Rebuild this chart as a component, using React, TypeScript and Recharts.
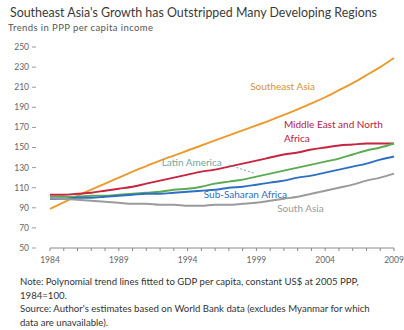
import React from "react";
import { LineChart, Line, XAxis, YAxis, ReferenceDot, ReferenceLine } from "recharts";

const years = [1984,1985,1986,1987,1988,1989,1990,1991,1992,1993,1994,1995,1996,1997,1998,1999,2000,2001,2002,2003,2004,2005,2006,2007,2008,2009];
const southeastAsia = [89,95.5,102,108,114,120,126,131.5,137,142,147,152,157,162,167,172,177,182.5,188,194,200,207,214,222,230,239];
const mena = [103,103,104,105,107,109,111,114,117,120,123,126,128,131,134,137,140,143,145,148,150,152,153,154,154,154];
const latinAmerica = [101,101,101,102,102,103,104,105,106,108,109,111,114,116,118,121,124,127,130,133,136,139,143,147,150,154];
const subSaharan = [99,99,100,100,101,102,103,104,104,105,106,107,108,110,111,113,115,117,120,122,125,128,131,134,138,141];
const southAsia = [100,99,98,97,96,95,94,94,93,93,92,92,93,93,94,95,97,99,101,104,107,110,113,117,120,124];
const yTicks = [50,70,90,110,130,150,170,190,210,230,250];
const labeledYears = [1984,1989,1994,1999,2004,2009];

const data = years.map((y, i) => ({
  year: y,
  sea: southeastAsia[i],
  mena: mena[i],
  la: latinAmerica[i],
  ssa: subSaharan[i],
  sa: southAsia[i],
}));

const FONT = "Lato, 'Liberation Sans', sans-serif";

const annotations = [
  { lines: ["Southeast Asia"], x: 2000.9, y: 211, color: "#d4923a", anchor: "middle" },
  { lines: ["Middle East and North", "Africa"], x: 2001.0, y: 172.5, color: "#b8173f", anchor: "start" },
  { lines: ["Latin America"], x: 1994.3, y: 134.6, color: "#6fa8a0", anchor: "middle" },
  { lines: ["Sub-Saharan Africa"], x: 1998.2, y: 103.7, color: "#2f6fbf", anchor: "middle" },
  { lines: ["South Asia"], x: 2002.2, y: 89.8, color: "#9a9a9a", anchor: "middle" },
];

const YTick = (props: any) => {
  const { x, y, payload } = props;
  return (
    <g>
      <text x={x - 21} y={y} dy="0.35em" textAnchor="end" fontSize={8.5} fill="#666" fontFamily={FONT}>
        {payload.value}
      </text>
      <line x1={x - 18} x2={x - 14} y1={y} y2={y} stroke="#999" strokeWidth={1} />
    </g>
  );
};

export default function App() {
  return (
    <div style={{ position: "absolute", left: 0, top: 0, width: 404, height: 330, background: "#fff", fontFamily: FONT, overflow: "hidden" }}>
      <div style={{ position: "absolute", left: 10, top: 5, fontSize: 12.4, color: "#3a3a3a", whiteSpace: "nowrap" }}>
        Southeast Asia's Growth has Outstripped Many Developing Regions
      </div>
      <div style={{ position: "absolute", left: 8, top: 22, fontSize: 9.5, letterSpacing: 0.4, color: "#555", whiteSpace: "nowrap" }}>
        Trends in PPP per capita income
      </div>
      <div style={{ position: "absolute", left: 0, top: 0 }}>
        <LineChart width={404} height={275} data={data} margin={{ top: 47, right: 10, left: 0, bottom: 7 }}>
          <XAxis
            dataKey="year"
            type="number"
            domain={[1984, 2009]}
            ticks={years}
            interval={0}
            height={20}
            tickSize={3}
            tickMargin={6}
            stroke="#888"
            tick={{ fontSize: 8.5, fill: "#666", fontFamily: FONT }}
            tickFormatter={(v: number) => (labeledYears.includes(v) ? String(v) : "")}
          />
          <YAxis
            type="number"
            domain={[50, 250]}
            ticks={yTicks}
            interval={0}
            width={50}
            axisLine={false}
            tickLine={false}
            tickSize={0}
            tickMargin={0}
            tick={<YTick />}
          />
          <Line type="monotone" dataKey="sea" stroke="#eb9a2e" strokeWidth={1.9} dot={false} isAnimationActive={false} />
          <Line type="monotone" dataKey="mena" stroke="#c8233f" strokeWidth={1.9} dot={false} isAnimationActive={false} />
          <Line type="monotone" dataKey="la" stroke="#5aab52" strokeWidth={1.9} dot={false} isAnimationActive={false} />
          <Line type="monotone" dataKey="ssa" stroke="#2e6fc4" strokeWidth={1.9} dot={false} isAnimationActive={false} />
          <Line type="monotone" dataKey="sa" stroke="#9b9b9b" strokeWidth={1.9} dot={false} isAnimationActive={false} />
          <ReferenceLine
            segment={[{ x: 1997.0, y: 132.6 }, { x: 1998.8, y: 124.6 }]}
            stroke="#6fa8a0"
            strokeDasharray="2 2"
            strokeWidth={1}
          />
          {annotations.map((a, i) => (
            <ReferenceDot
              key={i}
              x={a.x}
              y={a.y}
              r={0}
              shape={(p: any) => (
                <text
                  x={p.cx}
                  y={p.cy}
                  textAnchor={a.anchor as any}
                  fontSize={10}
                  fill={a.color}
                  fontFamily={FONT}
                >
                  {a.lines.map((l, j) => (
                    <tspan key={j} x={p.cx} dy={j === 0 ? "0.35em" : "14"}>{l}</tspan>
                  ))}
                </text>
              )}
            />
          ))}
        </LineChart>
      </div>
      <div style={{ position: "absolute", left: 20, top: 275, fontSize: 9.6, color: "#333", lineHeight: "13.5px", width: 390 }}>
        <div style={{ whiteSpace: "nowrap" }}>Note: Polynomial trend lines fitted to GDP per capita, constant US$ at 2005 PPP,</div>
        <div>1984=100.</div>
        <div style={{ whiteSpace: "nowrap" }}>Source: Author's estimates based on World Bank data (excludes Myanmar for which</div>
        <div>data are unavailable).</div>
      </div>
    </div>
  );
}
